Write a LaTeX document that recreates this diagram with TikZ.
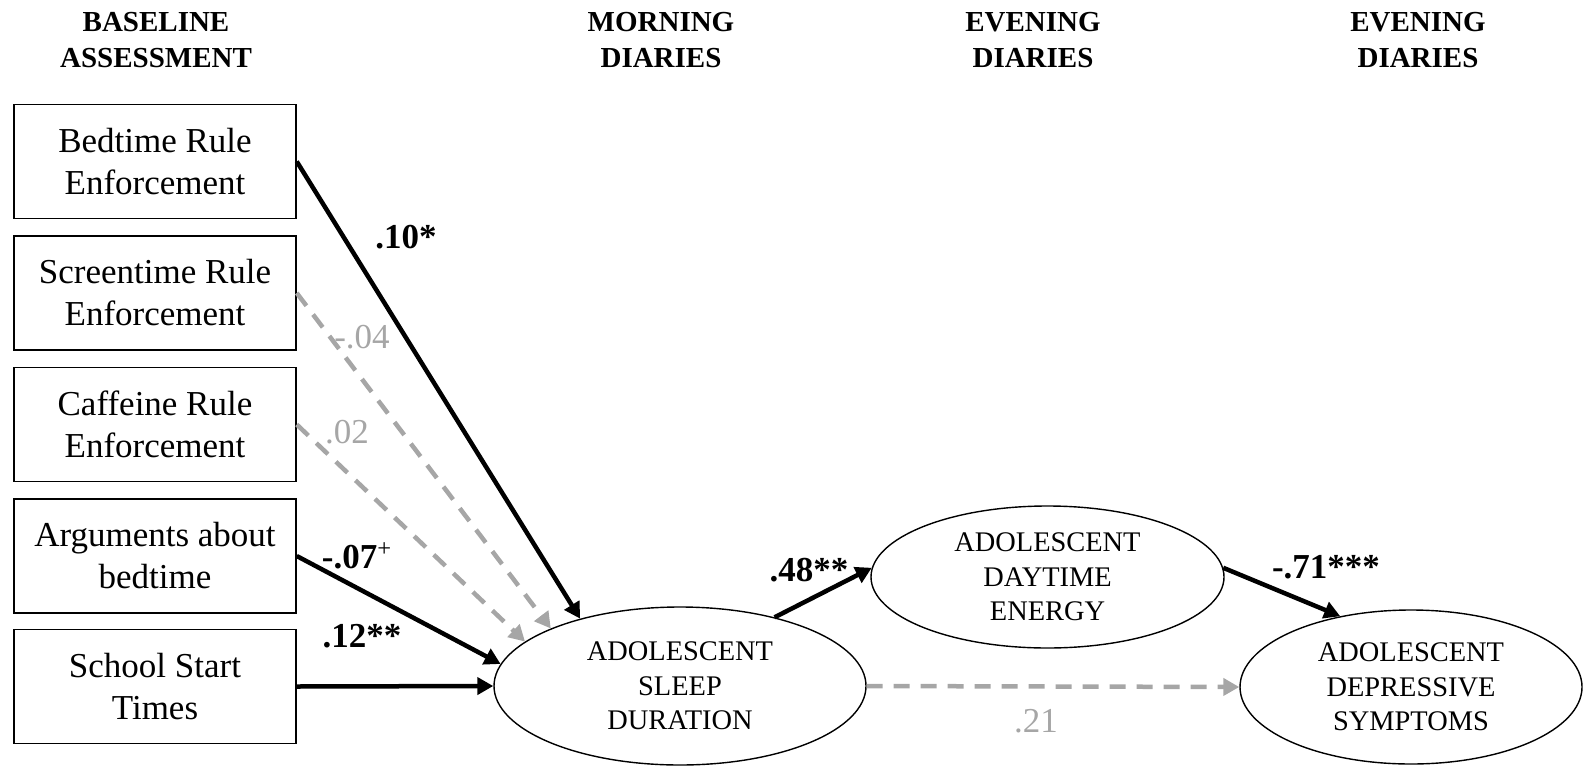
\documentclass[tikz,border=0pt]{standalone}
\usepackage{fontspec}
\setmainfont{Liberation Serif}
\usetikzlibrary{shapes.geometric,arrows.meta}
\definecolor{nsgray}{HTML}{A6A6A6}
\begin{document}
\begin{tikzpicture}[x=0.5pt,y=-0.5pt,
 rulebox/.style={draw, line width=0.75pt, minimum width=141pt, minimum height=57pt, inner sep=0pt, align=center, font=\fontsize{17.5}{21}\selectfont},
 latent/.style={ellipse, draw, line width=0.7pt, inner sep=0pt, align=center, font=\fontsize{14.2}{17.2}\selectfont},
 header/.style={align=center, font=\fontsize{14.5}{18}\selectfont\bfseries},
 sig/.style={-{Triangle[length=8pt,width=8.5pt]}, line width=2.25pt, black},
 nonsig/.style={-{Triangle[length=8pt,width=8.5pt]}, line width=2.25pt, nsgray, dash pattern=on 8pt off 5.5pt},
 siglab/.style={font=\fontsize{17.5}{20}\selectfont\bfseries, inner sep=0pt},
 nslab/.style={font=\fontsize{17.5}{20}\selectfont, text=nsgray, inner sep=0pt}]
\useasboundingbox (0,0) rectangle (1583,765);

% headers
\node[header] (h1) at (156,40) {BASELINE\\ASSESSMENT};
\node[header] (h2) at (661,40) {MORNING\\DIARIES};
\node[header] (h3) at (1033,40) {EVENING\\DIARIES};
\node[header] (h4) at (1418,40) {EVENING\\DIARIES};

% boxes
\node[rulebox] (b1) at (155,161.5) {Bedtime Rule\\Enforcement};
\node[rulebox] (b2) at (155,293) {Screentime Rule\\Enforcement};
\node[rulebox] (b3) at (155,424.5) {Caffeine Rule\\Enforcement};
\node[rulebox] (b4) at (155,556) {Arguments about\\bedtime};
\node[rulebox] (b5) at (155,686.5) {School Start\\Times};

% latent ellipses
\node[latent, minimum width=186pt, minimum height=79pt] (sleep) at (680,686) {ADOLESCENT\\SLEEP\\DURATION};
\node[latent, minimum width=176.5pt, minimum height=71pt] (energy) at (1047.5,577) {ADOLESCENT\\DAYTIME\\ENERGY};
\node[latent, minimum width=171pt, minimum height=77pt] (dep) at (1411,687) {ADOLESCENT\\DEPRESSIVE\\SYMPTOMS};

% paths
\draw[sig] (b1.east) -- (sleep.146);
\draw[nonsig] (b2.east) -- (sleep.156);
\draw[nonsig] (b3.east) -- (sleep.164);
\draw[sig] (b4.east) -- (sleep.173);
\draw[sig] (b5.east) -- (sleep.west);
\draw[sig] (sleep.36) -- (energy.177);
\draw[sig] (energy.3) -- (dep.135);
\draw[nonsig] (sleep.east) -- (dep.west);

% labels
\node[siglab] (l1) at (406,237) {.10*};
\node[nslab] (l2) at (362,337) {-.04};
\node[nslab] (l3) at (347,432) {.02};
\node[siglab] (l4) at (357,556) {-.07\textsuperscript{\normalfont +}};
\node[siglab] (l5) at (362,636) {.12**};
\node[siglab] (l6) at (809,570) {.48**};
\node[siglab] (l7) at (1326,567) {-.71***};
\node[nslab] (l8) at (1036,721) {.21};
\end{tikzpicture}
\end{document}
